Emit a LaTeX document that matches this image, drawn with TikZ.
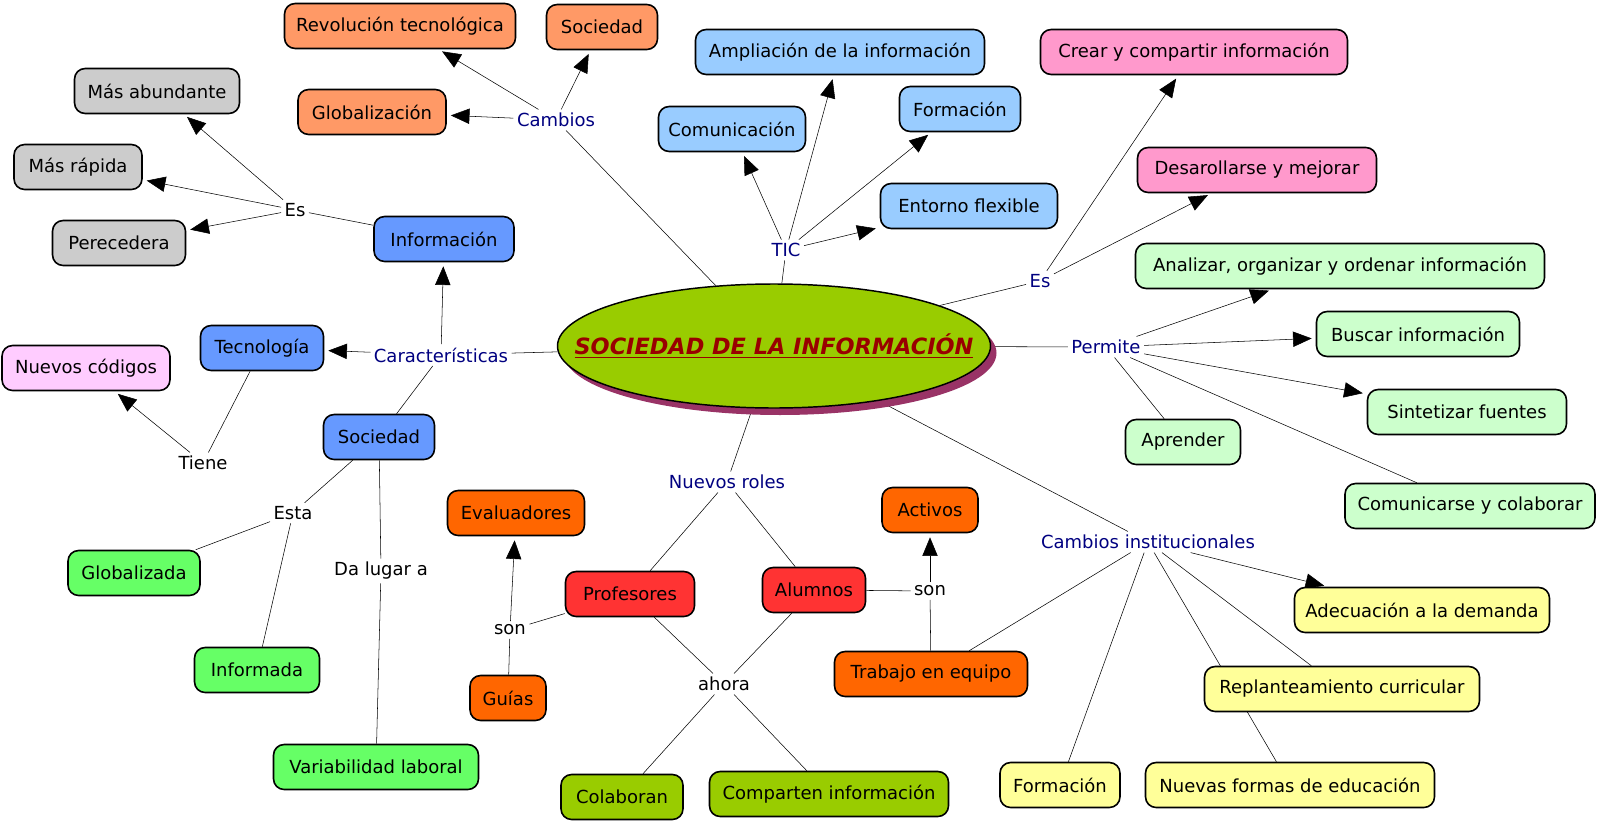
\documentclass[tikz,border=0pt]{standalone}
\usepackage{fontspec}
\setmainfont{DejaVu Sans}
\usetikzlibrary{arrows.meta,backgrounds,shapes.geometric}

\definecolor{cOrange}{RGB}{255,153,102}
\definecolor{cGray}{RGB}{204,204,204}
\definecolor{cBlue}{RGB}{102,153,255}
\definecolor{cSky}{RGB}{153,204,255}
\definecolor{cPink}{RGB}{255,153,204}
\definecolor{cMint}{RGB}{204,255,204}
\definecolor{cYellow}{RGB}{255,255,153}
\definecolor{cDarkOrange}{RGB}{255,102,0}
\definecolor{cRed}{RGB}{255,51,51}
\definecolor{cOlive}{RGB}{153,204,0}
\definecolor{cGreen}{RGB}{102,255,102}
\definecolor{cLilac}{RGB}{255,204,255}
\definecolor{cShadow}{RGB}{153,51,102}
\definecolor{cTitle}{RGB}{153,0,0}
\definecolor{cNavy}{RGB}{0,0,128}

\begin{document}
\begin{tikzpicture}[x=0.75pt,y=0.75pt,yscale=-1,xscale=1,
  concept/.style={draw, line width=1.2pt, rounded corners=8pt, minimum height=45*0.75pt, inner sep=2pt, font=\fontsize{13.5}{16}\selectfont},
  boxw/.style={minimum width=#1*0.75pt},
  linkword/.style={inner sep=2.5pt, font=\fontsize{13.5}{16}\selectfont},
  linkblue/.style={linkword, text=cNavy},
  arr/.style={-{Triangle[length=14pt,width=11.5pt]}, shorten >=3pt},
  conn/.style={line width=1.35pt}]
\useasboundingbox (0,0) rectangle (1600,821);

%Shape: Ellipse (shadow + centre)
\node [ellipse, fill=cShadow, inner sep=0pt, minimum width=433*0.75pt, minimum height=124*0.75pt] (socshadow) at (780,353) {};
\node [ellipse, draw, line width=1.1pt, fill=cOlive, inner xsep=-60pt, inner ysep=0pt, minimum width=433*0.75pt, minimum height=124*0.75pt, text=cTitle, font=\fontsize{16.8}{20}\selectfont\bfseries\itshape] (soc) at (774,346) {\underline{SOCIEDAD DE LA INFORMACIÓN}};

% Cambios
\node [concept, boxw=231, fill=cOrange] (revol) at (400,26) {Revolución tecnológica};
\node [concept, boxw=111, fill=cOrange] (socc) at (602,27) {Sociedad};
\node [concept, boxw=148, fill=cOrange] (globz) at (372,112) {Globalización};
% Es (informacion)
\node [concept, boxw=165, fill=cGray] (abund) at (157,91) {Más abundante};
\node [concept, boxw=128, fill=cGray] (rapida) at (78,167) {Más rápida};
\node [concept, boxw=133, fill=cGray] (perec) at (119,243) {Perecedera};
% Caracteristicas
\node [concept, boxw=140, fill=cBlue] (inform) at (444,239) {Información};
\node [concept, boxw=123, fill=cBlue] (tecno) at (262,348) {Tecnología};
\node [concept, boxw=111, fill=cBlue] (socb) at (379,437) {Sociedad};
\node [concept, boxw=168, fill=cLilac] (codigos) at (86,368) {Nuevos códigos};
\node [concept, boxw=132, fill=cGreen] (globda) at (134,573) {Globalizada};
\node [concept, boxw=125, fill=cGreen] (informada) at (257,670) {Informada};
\node [concept, boxw=205, fill=cGreen] (variab) at (376,767) {Variabilidad laboral};
% TIC
\node [concept, boxw=289, fill=cSky] (ampl) at (840,52) {Ampliación de la información};
\node [concept, boxw=147, fill=cSky] (comun) at (732,129) {Comunicación};
\node [concept, boxw=121, fill=cSky] (format) at (960,109) {Formación};
\node [concept, boxw=177, fill=cSky] (entorno) at (969,206) {Entorno flexible};
% Es
\node [concept, boxw=307, fill=cPink] (crear) at (1194,52) {Crear y compartir información};
\node [concept, boxw=239, fill=cPink] (desar) at (1257,170) {Desarollarse y mejorar};
% Permite
\node [concept, boxw=409, fill=cMint] (analiz) at (1340,266) {Analizar, organizar y ordenar información};
\node [concept, boxw=203, fill=cMint] (buscar) at (1418,334) {Buscar información};
\node [concept, boxw=199, fill=cMint] (sintet) at (1467,412) {Sintetizar fuentes};
\node [concept, boxw=115, fill=cMint] (aprend) at (1183,442) {Aprender};
\node [concept, boxw=250, fill=cMint] (comunic) at (1470,506) {Comunicarse y colaborar};
% Cambios institucionales
\node [concept, boxw=255, fill=cYellow] (adecua) at (1422,610) {Adecuación a la demanda};
\node [concept, boxw=275, fill=cYellow] (replan) at (1342,689) {Replanteamiento curricular};
\node [concept, boxw=120, fill=cYellow] (formay) at (1060,785) {Formación};
\node [concept, boxw=289, fill=cYellow] (nuevasf) at (1290,785) {Nuevas formas de educación};
% Nuevos roles
\node [concept, boxw=129, fill=cRed] (profes) at (630,594) {Profesores};
\node [concept, boxw=103, fill=cRed] (alumnos) at (814,590) {Alumnos};
\node [concept, boxw=137, fill=cDarkOrange] (evalua) at (516,513) {Evaluadores};
\node [concept, boxw=76, fill=cDarkOrange] (guias) at (508,698) {Guías};
\node [concept, boxw=96, fill=cDarkOrange] (activos) at (930,510) {Activos};
\node [concept, boxw=193, fill=cDarkOrange] (trabajo) at (931,674) {Trabajo en equipo};
\node [concept, boxw=122, fill=cOlive] (colab) at (622,797) {Colaboran};
\node [concept, boxw=239, fill=cOlive] (compart) at (829,794) {Comparten información};

% Text Node (linking words)
\node [linkblue] (lcambios) at (556,120) {Cambios};
\node [linkblue] (ltic) at (786,250) {TIC};
\node [linkblue] (lesr) at (1040,281) {Es};
\node [linkblue] (lpermite) at (1106,347) {Permite};
\node [linkblue] (lci) at (1148,542) {Cambios institucionales};
\node [linkblue] (lroles) at (727,482) {Nuevos roles};
\node [linkblue] (lcaract) at (441,355) {Características};
\node [linkword] (lesl) at (295,210) {Es};
\node [linkword] (ltiene) at (203,463) {Tiene};
\node [linkword] (lesta) at (293,513) {Esta};
\node [linkword] (ldalugar) at (381,571) {Da lugar a};
\node [linkword] (lsonl) at (510,630) {son};
\node [linkword] (lahora) at (724,684) {ahora};
\node [linkword] (lsonr) at (930,591) {son};

%Straight Lines
\begin{scope}[on background layer, conn]
\draw (soc) -- (lcambios);
\draw (soc) -- (ltic);
\draw (soc) -- (lesr);
\draw (soc) -- (lpermite);
\draw (soc) -- (lci);
\draw (soc) -- (lroles);
\draw (soc) -- (lcaract);
\draw [arr] (lcambios) -- (revol);
\draw [arr] (lcambios) -- (socc);
\draw [arr] (lcambios) -- (globz);
\draw [arr] (ltic) -- (comun);
\draw [arr] (ltic) -- (ampl);
\draw [arr] (ltic) -- (format);
\draw [arr] (ltic) -- (entorno);
\draw [arr] (lesr) -- (crear);
\draw [arr] (lesr) -- (desar);
\draw [arr] (lpermite) -- (analiz);
\draw [arr] (lpermite) -- (buscar);
\draw [arr] (lpermite) -- (sintet);
\draw (lpermite) -- (aprend);
\draw (lpermite) -- (comunic);
\draw [arr] (lci) -- (adecua);
\draw (lci) -- (trabajo);
\draw (lci) -- (formay);
\draw (lci) -- (replan);
\draw (lci) -- (nuevasf);
\draw (lroles) -- (profes);
\draw (lroles) -- (alumnos);
\draw (profes) -- (lsonl);
\draw [arr] (lsonl) -- (evalua);
\draw (lsonl) -- (guias);
\draw (profes) -- (lahora);
\draw (alumnos) -- (lahora);
\draw (lahora) -- (colab);
\draw (lahora) -- (compart);
\draw (alumnos) -- (lsonr);
\draw [arr] (lsonr) -- (activos);
\draw (lsonr) -- (trabajo);
\draw [arr] (lcaract) -- (inform);
\draw [arr] (lcaract) -- (tecno);
\draw (lcaract) -- (socb);
\draw (inform) -- (lesl);
\draw [arr] (lesl) -- (abund);
\draw [arr] (lesl) -- (rapida);
\draw [arr] (lesl) -- (perec);
\draw (tecno) -- (ltiene);
\draw [arr] (ltiene) -- (codigos);
\draw (socb) -- (lesta);
\draw (lesta) -- (globda);
\draw (lesta) -- (informada);
\draw (socb) -- (ldalugar);
\draw (ldalugar) -- (variab);
\end{scope}

\end{tikzpicture}
\end{document}
